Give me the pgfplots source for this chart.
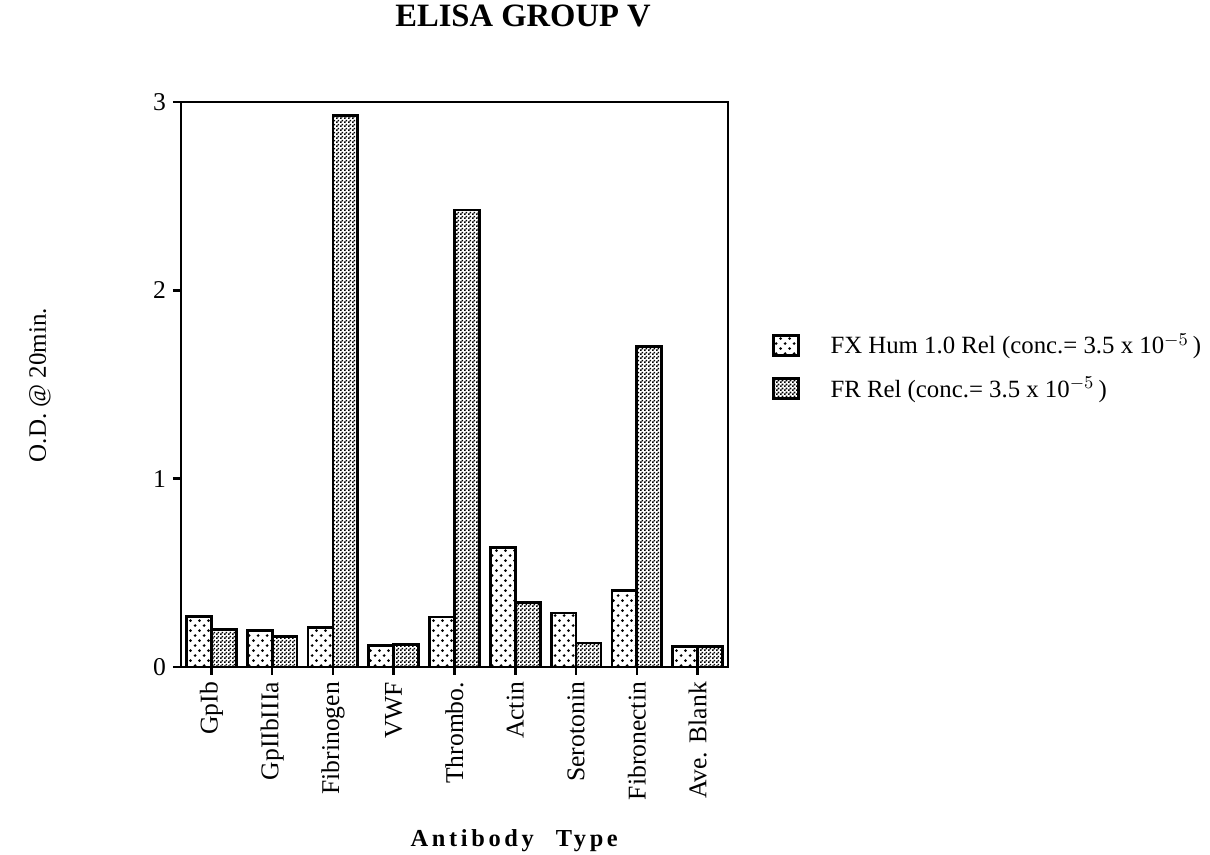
\documentclass[border=0pt]{standalone}
\usepackage{fontspec}
\setmainfont{Liberation Serif}
\newfontfamily\spacedfont[LetterSpace=15]{Liberation Serif}
\usepackage{pgfplots}
\pgfplotsset{compat=1.18}
\usetikzlibrary{patterns}
\pgfdeclarepatternformonly{fxdots}{\pgfqpoint{0pt}{0pt}}{\pgfqpoint{4.4pt}{5.2pt}}{\pgfqpoint{4.4pt}{5.2pt}}{%
  \pgfpathcircle{\pgfqpoint{1.1pt}{1.3pt}}{0.75pt}%
  \pgfpathcircle{\pgfqpoint{3.3pt}{3.9pt}}{0.75pt}%
  \pgfusepath{fill}}
\pgfdeclarepatternformonly{frcheck}{\pgfqpoint{0pt}{0pt}}{\pgfqpoint{2pt}{2pt}}{\pgfqpoint{2pt}{2pt}}{%
  \pgfpathrectangle{\pgfqpoint{0pt}{0pt}}{\pgfqpoint{1pt}{1pt}}%
  \pgfpathrectangle{\pgfqpoint{1pt}{1pt}}{\pgfqpoint{1pt}{1pt}}%
  \pgfusepath{fill}}
\pgfplotsset{mylegend/.style={legend image code/.code={%
  \draw[##1, line width=1.4pt] (0pt,-5pt) rectangle (12.5pt,5pt);
  \path[draw=none, fill=none] (0pt,0pt) -- (26.5pt,0pt);}}}
\pgfplotstableread{
x FX FR
0 0.270 0.200
1 0.195 0.160
2 0.210 2.928
3 0.115 0.120
4 0.265 2.427
5 0.635 0.343
6 0.287 0.127
7 0.407 1.700
8 0.110 0.110
}\datatable
\begin{document}
\begin{tikzpicture}
\path[use as bounding box] (-90.5pt,-94pt) rectangle (514.5pt,333.5pt);
\begin{axis}[
  at={(0pt,0pt)}, anchor=south west,
  scale only axis, width=273.5pt, height=282.5pt,
  xmin=-0.5, xmax=8.5, ymin=0, ymax=3,
  xtick={0,...,8},
  xticklabels={GpIb,GpIIbIIIa,Fibrinogen,VWF,Thrombo.,Actin,Serotonin,Fibronectin,Ave. Blank},
  ytick={0,1,2,3},
  tick align=outside, xtick pos=bottom, ytick pos=left, major tick length=4pt,
  axis line style={line width=1.3pt},
  major tick style={line width=1.3pt, black},
  xticklabel style={rotate=90, anchor=east, font=\fontsize{12.8}{14}\selectfont},
  yticklabel style={font=\fontsize{12.8}{14}\selectfont},
  /pgf/number format/assume math mode=true,
  ybar=0pt, bar width=0.41,
  title={\fontsize{16.3}{18}\selectfont\bfseries ELISA GROUP V},
  title style={at={(axis description cs:0.391,1.113)}, anchor=base west, inner sep=0pt},
  xlabel={\fontsize{12.2}{14}\selectfont\spacedfont\bfseries Antibody\hspace{0.9em}Type},
  xlabel style={at={(axis description cs:0.419,-0.317)}, anchor=base west, inner sep=0pt},
  ylabel={O.D. @ 20min.},
  ylabel style={at={(axis description cs:-0.258,0.499)}, anchor=center, font=\fontsize{12.5}{14}\selectfont},
  legend style={draw=none, fill=none, at={(axis description cs:1.080,0.598)}, anchor=north west,
    inner sep=0pt, row sep=6pt, font=\fontsize{12.4}{14}\selectfont, cells={anchor=west}},
]
\addplot[draw=black, line width=1.4pt, pattern=fxdots, mylegend] table[x=x, y=FX] {\datatable};
\addlegendentry{FX Hum 1.0 Rel (conc.= 3.5 x 10$^{-5}$\,)}
\addplot[draw=black, line width=1.4pt, pattern=frcheck, mylegend] table[x=x, y=FR] {\datatable};
\addlegendentry{FR Rel (conc.= 3.5 x 10$^{-5}$\,)}
\end{axis}
\end{tikzpicture}
\end{document}
